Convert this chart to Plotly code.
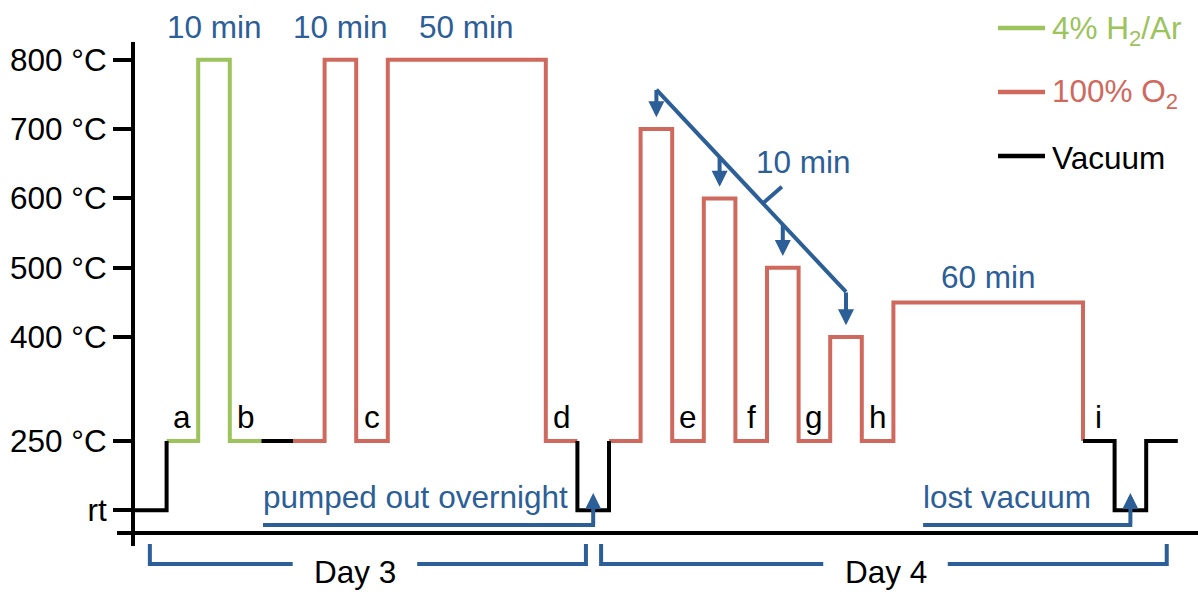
import plotly.graph_objects as go

# ---- temperature programme (one entry per constant-temperature step) ----
RT = 150  # level used for room temperature on the axis
tick_vals = [RT, 250, 400, 500, 600, 700, 800]
tick_text = ["rt", "250 °C", "400 °C", "500 °C", "600 °C", "700 °C", "800 °C"]

seg_start = [0, 1, 2, 3, 4, 5, 6, 7, 8, 13, 14, 15, 16, 17, 18, 19, 20, 21, 22, 23, 24, 30, 31, 32]
seg_temp = [RT, 250, 800, 250, 250, 250, 800, 250, 800, 250, RT, 250, 700, 250, 600, 250, 500, 250,
            400, 250, 450, 250, RT, 250]
seg_gas = ["vac", "h2", "h2", "h2", "vac", "o2", "o2", "o2", "o2", "o2", "vac", "o2", "o2", "o2", "o2",
           "o2", "o2", "o2", "o2", "o2", "o2", "vac", "vac", "vac"]
end_time = 33

gas_keys = ["h2", "o2", "vac"]
gas_labels = ["4% H<sub>2</sub>/Ar", "100% O<sub>2</sub>", "Vacuum"]

step_letters = ["a", "b", "c", "d", "e", "f", "g", "h", "i"]
step_segments = [1, 3, 7, 9, 13, 15, 17, 19, 21]

hold_texts = ["10 min", "10 min", "50 min", "60 min"]
hold_segments = [2, 6, 8, 20]

ramp_segments = [12, 14, 16, 18]
ramp_text = "10 min"

note_texts = ["pumped out overnight", "lost vacuum"]
note_segments = [10, 22]

day_names = ["Day 3", "Day 4"]

# ---- styling ----
gas_colors = {"h2": "#9cc35c", "o2": "#d0695d", "vac": "#000000"}
BLUE = "#2c5e97"
FONT = "Liberation Sans, Arial, sans-serif"
FS = 31.5
LW = 4

W, H = 1198, 594
PLOT_L, PLOT_R, PLOT_T, PLOT_B = 135, 1198, 42, 546
PX_PER_UNIT = 31.6
X_MAX = (PLOT_R - PLOT_L) / PX_PER_UNIT
Y_RANGE = [98.5, 825.7]


def px_to_paper_x(px):
    return (px - PLOT_L) / (PLOT_R - PLOT_L)


def px_to_paper_y(py):
    return (PLOT_B - py) / (PLOT_B - PLOT_T)


def u_to_paper_x(u):
    return u / X_MAX


seg_end = seg_start[1:] + [end_time]
seg_mid = [(a + b) / 2 for a, b in zip(seg_start, seg_end)]

# ---- build the coloured step profile ----
pieces = []
for i in range(len(seg_start)):
    if i > 0 and seg_temp[i] != seg_temp[i - 1]:
        if RT in (seg_temp[i], seg_temp[i - 1]):
            vgas = "vac"
        else:
            vgas = seg_gas[i - 1]
        pieces.append((seg_start[i], seg_temp[i - 1], seg_start[i], seg_temp[i], vgas))
    pieces.append((seg_start[i], seg_temp[i], seg_end[i], seg_temp[i], seg_gas[i]))

fig = go.Figure()
for key in gas_keys:
    xs, ys = [], []
    last = None
    for x0, y0, x1, y1, g in pieces:
        if g != key:
            continue
        if last != (x0, y0):
            if xs:
                xs.append(None)
                ys.append(None)
            xs += [x0]
            ys += [y0]
        xs.append(x1)
        ys.append(y1)
        last = (x1, y1)
    fig.add_trace(go.Scatter(x=xs, y=ys, mode="lines", showlegend=False, hoverinfo="skip",
                             line=dict(color=gas_colors[key], width=LW)))

annotations = []
shapes = []

# step letters above the 250 °C holds
for letter, s in zip(step_letters, step_segments):
    annotations.append(dict(x=seg_mid[s], y=seg_temp[s], text=letter, showarrow=False,
                            xanchor="center", yanchor="middle", yshift=24,
                            font=dict(size=FS, color="black", family=FONT)))

# hold durations
hold_shift = {2: 33, 6: 33, 8: 33, 20: 25}
for txt, s in zip(hold_texts, hold_segments):
    annotations.append(dict(x=seg_mid[s], y=seg_temp[s], text=txt, showarrow=False,
                            xanchor="center", yanchor="middle", yshift=hold_shift[s],
                            font=dict(size=FS, color=BLUE, family=FONT)))

# descending series: diagonal with arrows down to each hold
r0, r1 = ramp_segments[0], ramp_segments[-1]
d_u0, d_t0 = seg_mid[r0], seg_temp[r0] + 57
d_u1, d_t1 = seg_mid[r1], seg_temp[r1] + 65


def diag_t(u):
    return d_t0 + (d_t1 - d_t0) * (u - d_u0) / (d_u1 - d_u0)


fig.add_trace(go.Scatter(x=[d_u0, d_u1], y=[d_t0, d_t1], mode="lines", showlegend=False, hoverinfo="skip",
                         line=dict(color=BLUE, width=LW)))
for s in ramp_segments:
    annotations.append(dict(x=seg_mid[s], y=seg_temp[s] + 17, ax=seg_mid[s], ay=diag_t(seg_mid[s]) + 1.5,
                            xref="x", yref="y", axref="x", ayref="y", text="", showarrow=True,
                            arrowhead=2, arrowsize=0.8, arrowwidth=LW, arrowcolor=BLUE))
# small pointer from the diagonal to its label
tick_u = 19.87
fig.add_trace(go.Scatter(x=[tick_u, tick_u + 0.6], y=[diag_t(tick_u), diag_t(tick_u) + 24], mode="lines",
                         showlegend=False, hoverinfo="skip", line=dict(color=BLUE, width=LW)))
annotations.append(dict(x=21.14, y=652, text=ramp_text, showarrow=False, xanchor="center", yanchor="middle",
                        font=dict(size=FS, color=BLUE, family=FONT)))

# notes under the vacuum troughs
note_left = [4.05, 24.94]
under_t = 128.8
for txt, s, ul in zip(note_texts, note_segments, note_left):
    fig.add_trace(go.Scatter(x=[ul, seg_mid[s] + 0.06], y=[under_t, under_t], mode="lines",
                             showlegend=False, hoverinfo="skip", line=dict(color=BLUE, width=LW)))
    annotations.append(dict(x=seg_mid[s], y=seg_temp[s] + 25, ax=seg_mid[s], ay=under_t,
                            xref="x", yref="y", axref="x", ayref="y", text="", showarrow=True,
                            arrowhead=2, arrowsize=0.8, arrowwidth=LW, arrowcolor=BLUE))
    annotations.append(dict(x=ul, y=169, text=txt, showarrow=False, xanchor="left", yanchor="middle",
                            xshift=-2, font=dict(size=FS, color=BLUE, family=FONT)))

# horizontal time axis
shapes.append(dict(type="line", xref="paper", yref="paper", x0=px_to_paper_x(117), x1=1.0,
                   y0=px_to_paper_y(533), y1=px_to_paper_y(533), line=dict(color="black", width=LW)))

# day brackets
day_start = [0.47, 14.75]
day_end = [14.27, 32.65]
day_center = [6.96, 23.75]
gap = 1.97
yb_top, yb_bot = px_to_paper_y(544), px_to_paper_y(564)
for name, a, b, c in zip(day_names, day_start, day_end, day_center):
    line = dict(color=BLUE, width=LW)
    shapes.append(dict(type="path", xref="paper", yref="paper", line=line,
                       path=f"M{u_to_paper_x(a)},{yb_top} L{u_to_paper_x(a)},{yb_bot} L{u_to_paper_x(c - gap)},{yb_bot}"))
    shapes.append(dict(type="path", xref="paper", yref="paper", line=line,
                       path=f"M{u_to_paper_x(c + gap)},{yb_bot} L{u_to_paper_x(b)},{yb_bot} L{u_to_paper_x(b)},{yb_top}"))
    annotations.append(dict(xref="paper", yref="paper", x=u_to_paper_x(c), y=px_to_paper_y(572), text=name,
                            showarrow=False, xanchor="center", yanchor="middle",
                            font=dict(size=FS, color="black", family=FONT)))

# key
key_y = [28, 92, 156]
for key, label, ky in zip(gas_keys, gas_labels, key_y):
    yy = px_to_paper_y(ky)
    shapes.append(dict(type="line", xref="paper", yref="paper", x0=px_to_paper_x(998), x1=px_to_paper_x(1045),
                       y0=yy, y1=yy, line=dict(color=gas_colors[key], width=LW + 0.5)))
    annotations.append(dict(xref="paper", yref="paper", x=px_to_paper_x(1050), y=px_to_paper_y(ky + 2),
                            text=label, showarrow=False, xanchor="left", yanchor="middle",
                            font=dict(size=FS, color=gas_colors[key], family=FONT)))

fig.update_layout(
    width=W, height=H,
    margin=dict(l=PLOT_L, r=W - PLOT_R, t=PLOT_T, b=H - PLOT_B),
    paper_bgcolor="white", plot_bgcolor="white",
    showlegend=False,
    xaxis=dict(range=[0, X_MAX], visible=False, showgrid=False, zeroline=False),
    yaxis=dict(range=Y_RANGE, showgrid=False, zeroline=False, showline=True, linewidth=LW, linecolor="black",
               ticks="outside", ticklen=18, tickwidth=LW, tickcolor="black",
               tickvals=tick_vals, ticktext=tick_text,
               tickfont=dict(size=FS, color="black", family=FONT)),
    annotations=annotations,
    shapes=shapes,
)

fig.write_html("out.html")
